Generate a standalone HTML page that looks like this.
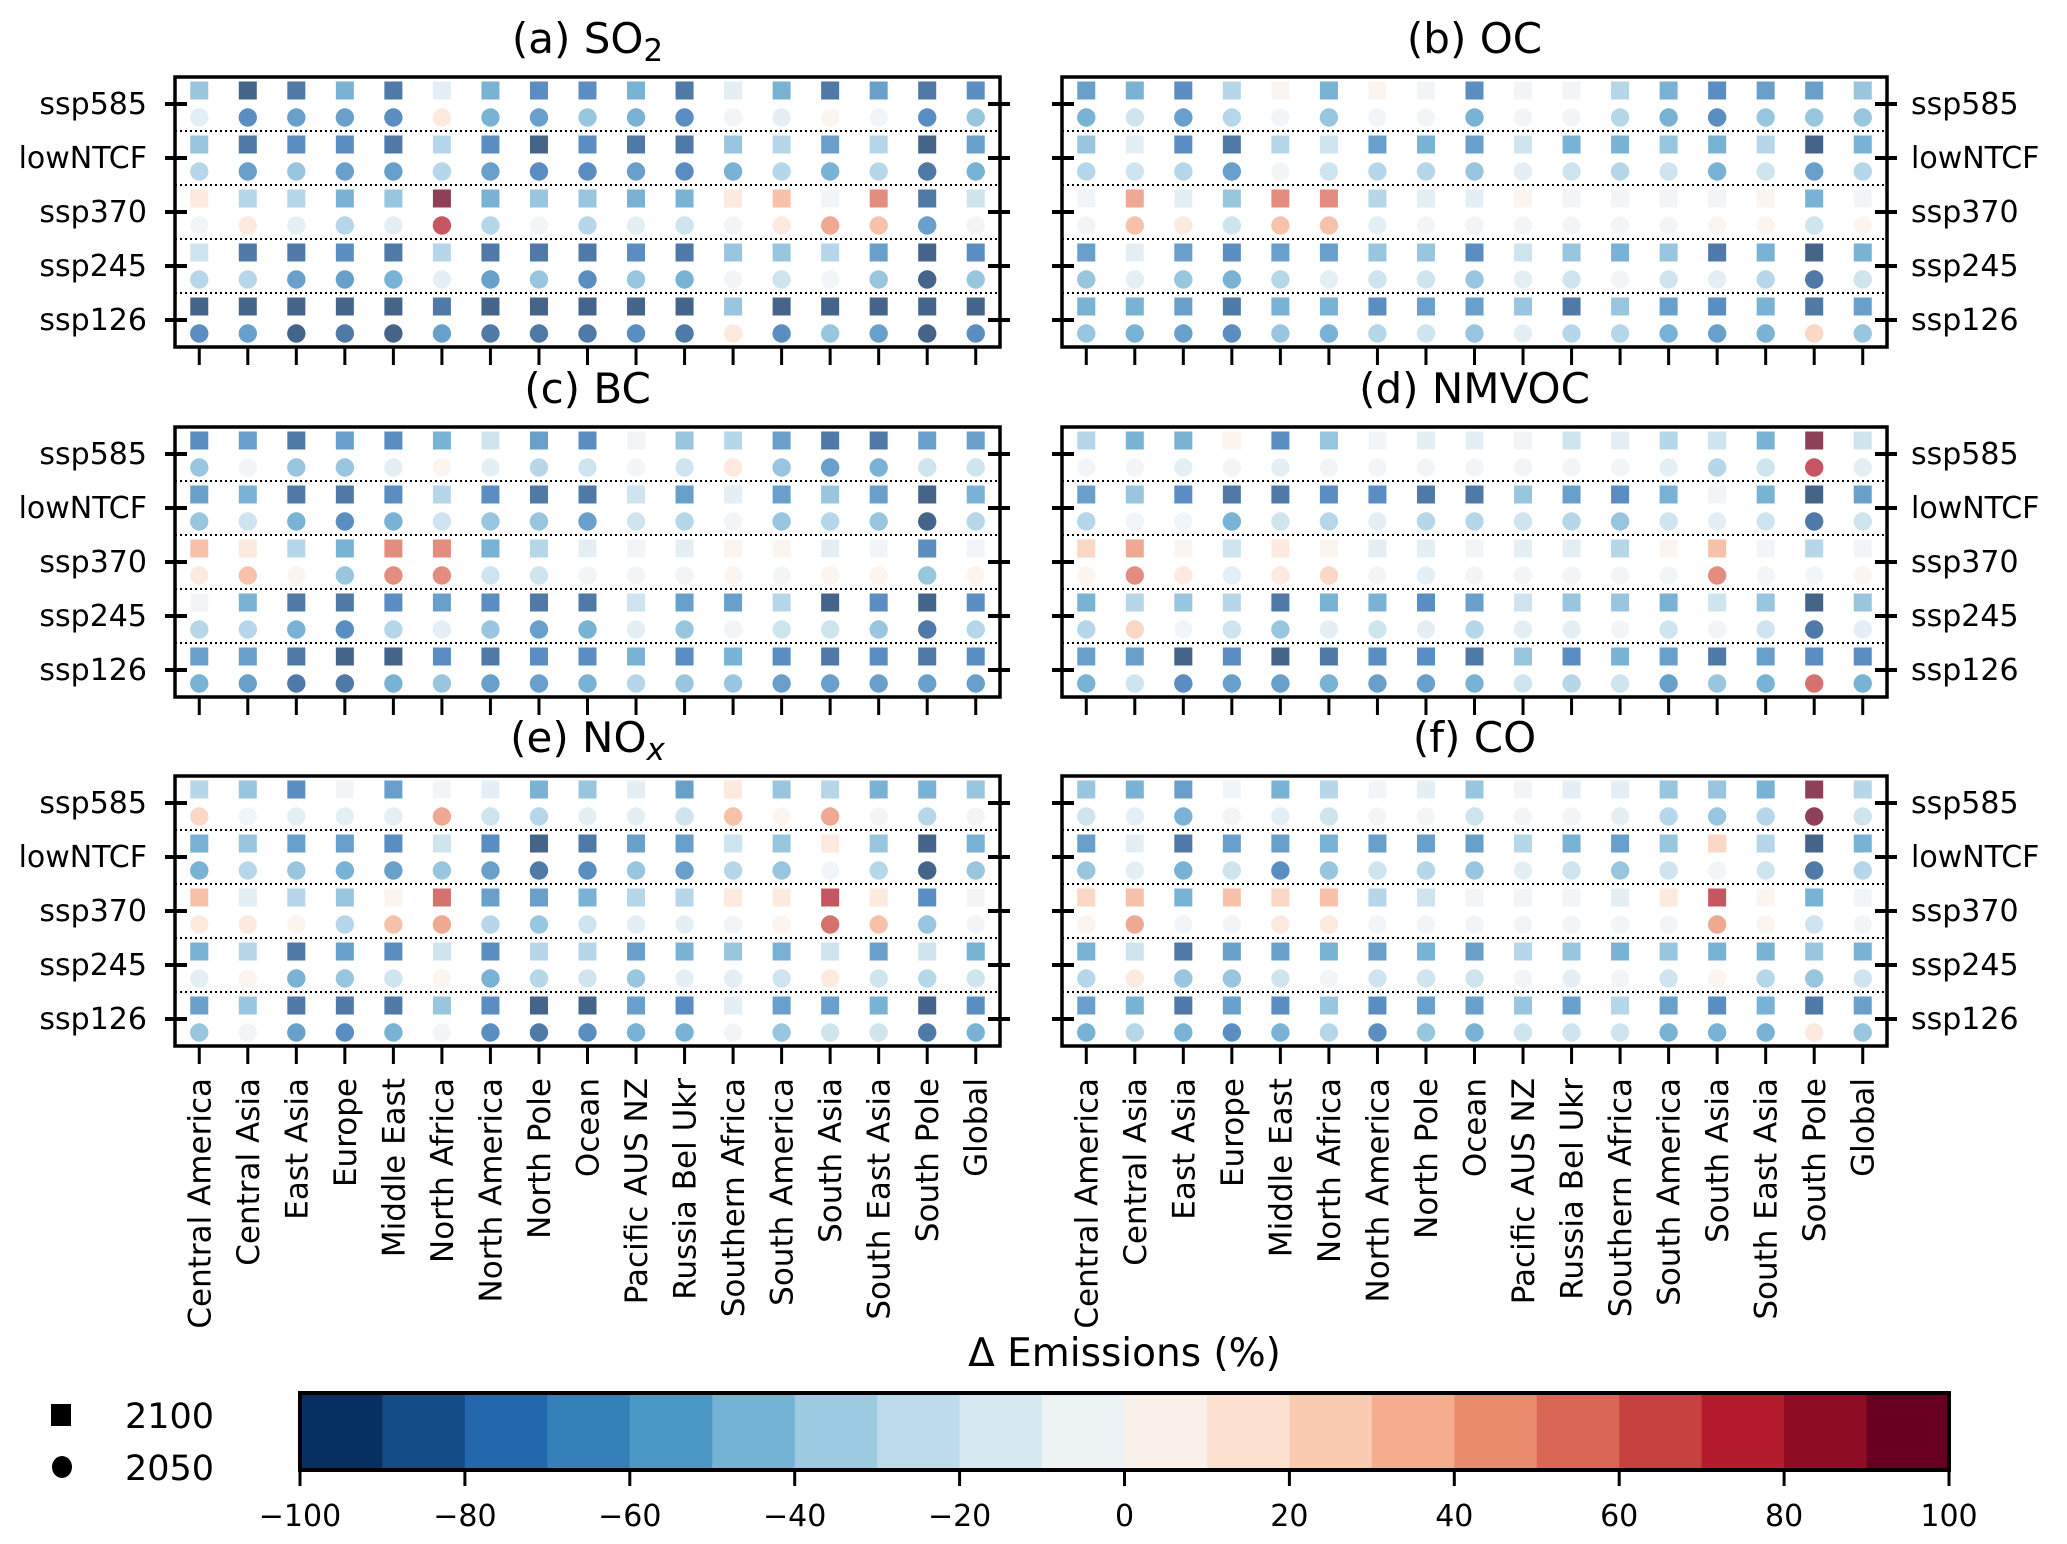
<!DOCTYPE html>
<html><head><meta charset="utf-8"><style>
html,body{margin:0;padding:0;background:#fff;}
svg{display:block;font-family:"DejaVu Sans","Liberation Sans",sans-serif;}
</style></head><body>
<svg id="fig" width="2067" height="1544" viewBox="0 0 2067 1544" xmlns="http://www.w3.org/2000/svg"></svg>
<script>
const regions = ["Central America","Central Asia","East Asia","Europe","Middle East","North Africa","North America","North Pole","Ocean","Pacific AUS NZ","Russia Bel Ukr","Southern Africa","South America","South Asia","South East Asia","South Pole","Global"];
const scenarios = ["ssp585","lowNTCF","ssp370","ssp245","ssp126"];
const panelTitles = ["(a) SO","(b) OC","(c) BC","(d) NMVOC","(e) NO","(f) CO"];
const panelSubs = ["2","","","","x",""];
const cbarTicks = [-100,-80,-60,-40,-20,0,20,40,60,80,100];
const yearLabels = ["2100","2050"];

const so2 = [
[-45,-95,-85,-55,-85,-15,-55,-75,-75,-55,-85,-15,-55,-85,-65,-85,-75],
[-15,-75,-65,-65,-75,15,-55,-65,-45,-55,-75,-2,-15,5,-5,-75,-45],
[-45,-85,-75,-75,-85,-35,-75,-95,-75,-85,-85,-45,-35,-65,-35,-95,-65],
[-35,-65,-45,-65,-65,-35,-65,-75,-75,-65,-75,-55,-35,-55,-35,-85,-55],
[15,-35,-35,-55,-45,95,-55,-45,-45,-55,-55,15,35,-5,55,-85,-25],
[-2,15,-15,-35,-15,75,-35,-5,-35,-15,-25,-5,15,45,35,-65,-5],
[-25,-85,-85,-75,-85,-35,-85,-85,-85,-75,-85,-45,-45,-35,-65,-95,-75],
[-35,-35,-65,-65,-55,-15,-65,-45,-75,-45,-55,-5,-25,-5,-45,-95,-45],
[-95,-95,-95,-95,-95,-85,-95,-95,-95,-95,-95,-45,-95,-95,-95,-95,-95],
[-75,-65,-95,-85,-95,-65,-85,-85,-85,-75,-85,15,-75,-45,-65,-95,-75]];
const oc = [
[-65,-55,-75,-35,5,-55,5,-5,-75,-2,-5,-35,-55,-75,-65,-65,-45],
[-55,-25,-65,-35,-5,-45,-2,-5,-55,-2,-5,-35,-55,-75,-45,-45,-45],
[-45,-15,-75,-85,-35,-25,-65,-55,-65,-25,-55,-55,-45,-55,-35,-95,-55],
[-35,-25,-35,-65,-2,-25,-35,-35,-45,-15,-25,-35,-25,-55,-25,-65,-35],
[-2,45,-15,-45,55,55,-35,-15,-15,5,-5,-5,-5,-5,5,-55,-5],
[-2,35,15,-25,35,35,-15,-5,-2,-2,-2,-2,-2,5,5,-25,5],
[-65,-15,-65,-75,-65,-65,-45,-45,-75,-25,-45,-55,-45,-85,-55,-95,-55],
[-45,-15,-45,-55,-35,-15,-25,-25,-45,-15,-25,-5,-25,-15,-35,-85,-25],
[-55,-55,-65,-85,-55,-55,-75,-65,-65,-45,-85,-45,-65,-75,-55,-85,-65],
[-45,-55,-65,-75,-45,-55,-35,-25,-45,-15,-35,-35,-55,-65,-55,25,-45]];
const bc = [
[-75,-65,-85,-65,-75,-55,-25,-65,-75,-5,-45,-35,-65,-85,-85,-65,-65],
[-45,-2,-45,-45,-15,5,-15,-35,-25,-5,-25,15,-45,-65,-55,-25,-25],
[-65,-55,-85,-85,-75,-35,-75,-85,-85,-25,-65,-15,-65,-45,-65,-95,-55],
[-45,-25,-55,-75,-55,-25,-45,-45,-65,-25,-35,-5,-45,-35,-45,-95,-35],
[35,15,-35,-55,55,55,-55,-35,-15,-2,-15,5,5,-15,-2,-75,-5],
[15,35,5,-45,55,55,-25,-25,-2,-2,-5,5,-2,5,5,-45,5],
[-5,-55,-85,-85,-75,-65,-75,-85,-85,-25,-65,-65,-35,-95,-75,-95,-75],
[-35,-35,-55,-75,-35,-15,-45,-65,-55,-15,-45,-5,-25,-25,-45,-85,-35],
[-65,-65,-85,-95,-95,-75,-85,-75,-75,-55,-75,-55,-75,-85,-75,-85,-75],
[-55,-65,-85,-85,-55,-45,-65,-65,-55,-35,-45,-45,-65,-65,-65,-65,-65]];
const nmvoc = [
[-35,-55,-55,5,-75,-45,-2,-15,-15,-2,-25,-15,-35,-25,-55,95,-25],
[-5,-2,-15,-5,-15,-2,-5,-2,-2,-5,-2,-2,-15,-35,-25,75,-15],
[-65,-45,-75,-85,-85,-75,-75,-85,-85,-45,-65,-75,-55,-5,-55,-95,-65],
[-35,-2,-2,-55,-25,-35,-15,-35,-35,-25,-35,-45,-25,-15,-25,-85,-25],
[25,45,5,-25,15,5,-15,-15,-5,-15,-15,-35,5,35,-2,-35,-2],
[5,55,15,-15,15,25,-5,-15,-2,-5,-5,-2,-2,55,-2,-2,5],
[-55,-35,-45,-35,-85,-55,-55,-75,-65,-25,-45,-45,-55,-25,-45,-95,-45],
[-35,25,-5,-25,-45,-15,-25,-15,-35,-15,-15,-5,-25,-2,-25,-85,-15],
[-65,-65,-95,-75,-95,-85,-75,-75,-85,-45,-75,-55,-65,-85,-65,-75,-75],
[-55,-25,-75,-65,-65,-55,-65,-65,-55,-25,-35,-25,-65,-45,-55,65,-55]];
const nox = [
[-35,-45,-75,-5,-65,-2,-15,-55,-45,-15,-65,15,-45,-35,-55,-55,-45],
[25,-2,-15,-15,-15,45,-25,-35,-15,-15,-25,35,5,45,-2,-35,-2],
[-55,-45,-65,-65,-75,-25,-75,-95,-85,-65,-65,-25,-45,15,-45,-95,-55],
[-55,-35,-45,-55,-65,-45,-65,-85,-75,-45,-65,-35,-45,-2,-35,-95,-45],
[35,-15,-35,-45,5,65,-65,-65,-55,-35,-35,15,15,75,15,-75,-5],
[15,15,5,-35,35,45,-35,-45,-25,-15,-15,-2,5,65,35,-45,-2],
[-55,-35,-85,-65,-75,-25,-75,-35,-35,-65,-55,-45,-55,-25,-65,-25,-55],
[-15,5,-55,-45,-25,5,-55,-35,-25,-45,-15,-15,-25,15,-25,-35,-25],
[-65,-45,-85,-85,-85,-45,-75,-95,-95,-65,-75,-15,-65,-65,-55,-95,-75],
[-45,-5,-65,-75,-55,-5,-75,-85,-75,-55,-55,-2,-45,-25,-25,-85,-55]];
const co = [
[-45,-55,-65,-2,-55,-35,-2,-15,-45,-5,-15,-15,-45,-45,-55,95,-35],
[-25,-15,-55,-5,-15,-25,-2,-2,-25,-5,-5,-15,-35,-45,-35,95,-25],
[-65,-15,-85,-65,-65,-55,-65,-65,-65,-35,-55,-65,-45,25,-35,-95,-55],
[-45,-15,-55,-25,-75,-45,-25,-35,-45,-15,-25,-45,-25,-5,-25,-85,-35],
[25,35,-55,35,25,35,-35,-25,-2,-5,-5,-15,15,75,5,-55,-5],
[5,45,-5,-2,15,15,-5,-5,-2,-5,-2,-5,-2,45,5,-25,-2],
[-55,-25,-85,-65,-65,-55,-65,-55,-65,-35,-45,-55,-45,-55,-55,-45,-55],
[-35,15,-45,-45,-25,-5,-25,-25,-25,-5,-15,-5,-25,5,-35,-45,-25],
[-65,-55,-85,-65,-75,-45,-75,-65,-65,-45,-65,-35,-65,-75,-55,-85,-65],
[-55,-35,-55,-75,-55,-35,-75,-45,-55,-25,-25,-25,-55,-55,-55,15,-45]];
const panelData = [so2, oc, bc, nmvoc, nox, co];

const NS = "http://www.w3.org/2000/svg";
const svg = document.getElementById("fig");
function mk(tag, attrs, parent){ const e=document.createElementNS(NS,tag); for(const k in attrs) e.setAttribute(k,attrs[k]); (parent||svg).appendChild(e); return e; }

const anchors = [[5,48,97],[33,102,172],[67,147,195],[146,197,222],[209,229,240],[247,247,247],[253,219,199],[244,165,130],[214,96,77],[178,24,43],[103,0,31]];
function cmap(t){ t=Math.max(0,Math.min(1,t)); const p=t*10; const i=Math.min(9,Math.floor(p)); const f=p-i;
  const a=anchors[i], b=anchors[i+1]; return "rgb("+a.map((v,k)=>Math.round(v+(b[k]-v)*f)).join(",")+")"; }
function colorFor(v){ let idx=Math.floor((v+100)/10); idx=Math.max(0,Math.min(19,idx)); return cmap(idx/19); }

const panelX = [175, 1062];
const panelTop = [77, 427, 776];
const PW = 825, PH = 270;
const nCol = regions.length, nRow = 10;
function xScale(px, i){ return px + (i + 0.5) * PW / nCol; }
function yScale(py, r){ return py + (r + 0.5) * PH / nRow; }

panelData.forEach((data, p) => {
  const px = panelX[p % 2], py = panelTop[Math.floor(p / 2)];
  const g = mk("g", {});
  
  
  const t = mk("text", {x: px + PW/2, y: py - 24, "text-anchor": "middle", "font-size": 42, fill: "#000"}, g);
  
  
  t.textContent = panelTitles[p];
  if (panelSubs[p]) { const s = mk("tspan", {"font-size": 31, dy: 8, "font-style": panelSubs[p]==="x"?"italic":"normal"}, t); s.textContent = panelSubs[p]; }
  for (let k = 1; k < 5; k++) {
    const y = py + k * 2 * PH / nRow;
    const l = mk("line", {x1: px, x2: px + PW, y1: y, y2: y, stroke: "#000", "stroke-width": 2, "stroke-dasharray": "2,3"}, g);
    
    
  }
  data.forEach((row, r) => {
    row.forEach((v, i) => {
      const cx = xScale(px, i), cy = yScale(py, r);
      let m;
      if (r % 2 === 0) m = mk("rect", {x: cx - 9, y: cy - 9, width: 18, height: 18, fill: colorFor(v), "fill-opacity": 0.75}, g);
      else m = mk("circle", {cx: cx, cy: cy, r: 9.2, fill: colorFor(v), "fill-opacity": 0.75}, g);
      
      
    });
  });
  const f = mk("rect", {x: px, y: py, width: PW, height: PH, fill: "none", stroke: "#000", "stroke-width": 3.5}, g);
  
  
  const left = (p % 2 === 0);
  scenarios.forEach((s, k) => {
    const y = py + (2*k + 1) * PH / nRow;
    mk("line", {x1: px - 10, x2: px + 12, y1: y, y2: y, stroke: "#000", "stroke-width": 4}, g);
    mk("line", {x1: px + PW - 12, x2: px + PW + 10, y1: y, y2: y, stroke: "#000", "stroke-width": 4}, g);
    const lab = mk("text", {x: left ? px - 28 : px + PW + 24, y: y + 10, "text-anchor": left ? "end" : "start", "font-size": 30}, g);
    
    
    lab.textContent = s;
  });
  regions.forEach((rg, i) => {
    const x = xScale(px, i);
    mk("line", {x1: x, x2: x, y1: py + PH, y2: py + PH + 18, stroke: "#000", "stroke-width": 3}, g);
  });
  if (Math.floor(p/2) === 2) {
    regions.forEach((rg, i) => {
      const x = xScale(px, i) + 11;
      const y = py + PH + 32;
      const lab = mk("text", {x: x, y: y, "text-anchor": "end", "font-size": 31, transform: "rotate(-90 " + x + " " + y + ")"}, g);
      
      
      lab.textContent = rg;
    });
  }
});

const cbX = 300, cbW = 1649, cbY = 1393, cbH = 77;
function cbScale(v){ return cbX + (v + 100) / 200 * cbW; }
const cb = mk("g", {});


for (let i = 0; i < 20; i++) {
  const v0 = -100 + i*10;
  mk("rect", {x: cbScale(v0), y: cbY, width: cbW/20 + 0.6, height: cbH, fill: colorFor(v0 + 5)}, cb);
}
mk("rect", {x: cbX, y: cbY, width: cbW, height: cbH, fill: "none", stroke: "#000", "stroke-width": 4}, cb);
cbarTicks.forEach(v => {
  const x = cbScale(v);
  mk("line", {x1: x, x2: x, y1: cbY + cbH, y2: cbY + cbH + 16, stroke: "#000", "stroke-width": 3}, cb);
  const t = mk("text", {x: x, y: cbY + cbH + 56, "text-anchor": "middle", "font-size": 30}, cb);
  
  
  t.textContent = v < 0 ? "\u2212" + Math.abs(v) : String(v);
});
const cbl = mk("text", {x: cbX + cbW/2, y: 1366, "text-anchor": "middle", "font-size": 39}, cb);


cbl.textContent = "\u0394 Emissions (%)";

const lg = mk("g", {});


const ls = mk("rect", {x: 51, y: 1404, width: 20, height: 22, fill: "#000"}, lg);


const lc = mk("ellipse", {cx: 62, cy: 1467, rx: 10, ry: 11, fill: "#000"}, lg);


[1428, 1480].forEach((y, k) => {
  const t = mk("text", {x: 125, y: y, "font-size": 35}, lg);
  
  
  t.textContent = yearLabels[k];
});
</script>
</body></html>
